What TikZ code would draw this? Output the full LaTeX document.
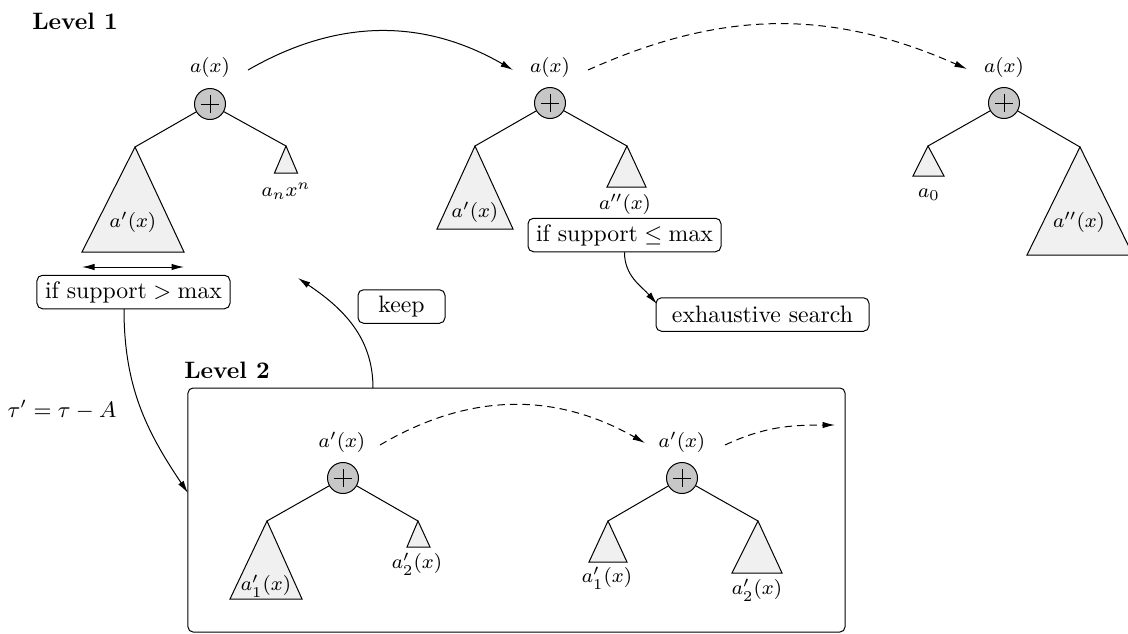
\documentclass[tikz,border=0pt]{standalone}
\usetikzlibrary{arrows.meta,calc}
\begin{document}
\begin{tikzpicture}[x=0.4pt,y=-0.4pt,
  lab/.style={inner sep=0pt,font=\fontsize{8.5}{10}\selectfont},
  txtbox/.style={draw,rounded corners=2.2pt,inner sep=0pt,font=\fontsize{9.5}{11}\selectfont,minimum height=13.4pt},
  lvl/.style={inner sep=0pt,font=\fontsize{9.5}{11}\selectfont\bfseries},
  sumnode/.style={circle,draw,fill=black!22,minimum size=12.4pt,inner sep=0pt,
    path picture={\draw ([xshift=-3.5pt]path picture bounding box.center) -- ([xshift=3.5pt]path picture bounding box.center);
                  \draw ([yshift=-3.5pt]path picture bounding box.center) -- ([yshift=3.5pt]path picture bounding box.center);}},
  tri/.style={draw,fill=black!6},
  arr/.style={-{Latex[length=5pt,width=2.6pt]}},
  dsh/.style={dash pattern=on 3pt off 2pt}
]
\useasboundingbox (0,0) rectangle (1128,634);

% ---------- Level 1 ----------
\node[lvl] (lev1) at (75,21) {Level 1};

% tree 1
\node[lab] (a1) at (210,67) {$a(x)$};
\node[sumnode] (s1) at (210,104) {};
\coordinate (t1l) at (135,147);
\coordinate (t1r) at (286,146);
\draw[tri] (t1l) -- (82,252) -- (184,252) -- cycle;
\draw[tri] (t1r) -- (274.5,173) -- (297.5,173) -- cycle;
\draw (s1) -- (t1l);
\draw (s1) -- (t1r);
\node[lab] (l1a) at (133,222) {$a'(x)$};
\node[lab] (l1b) at (286,191) {$a_nx^n$};
\coordinate (da) at (82,267);
\coordinate (db) at (184,267);
\draw[{Latex[length=5pt,width=2.6pt]}-{Latex[length=5pt,width=2.6pt]}] (da) -- (db);
\node[txtbox,minimum width=77.2pt] (ifgt) at (133.5,292) {if support${}>{}$max};

% tree 2
\node[lab] (a2) at (550,67) {$a(x)$};
\node[sumnode] (s2) at (550,103) {};
\coordinate (t2l) at (475,146);
\coordinate (t2r) at (627,146);
\draw[tri] (t2l) -- (437,229) -- (513,229) -- cycle;
\draw[tri] (t2r) -- (607,187) -- (646,187) -- cycle;
\draw (s2) -- (t2l);
\draw (s2) -- (t2r);
\node[lab] (l2a) at (475,212) {$a'(x)$};
\node[lab] (l2b) at (625,204) {$a''(x)$};
\node[txtbox,minimum width=77.2pt] (ifle) at (624.5,235) {if support${}\leq{}$max};
\node[txtbox,minimum width=85.2pt] (exh) at (762.5,314.5) {exhaustive search};
\node[txtbox,minimum width=34.8pt] (keep) at (401.5,306.5) {keep};

% tree 3
\node[lab] (a3) at (1004,67) {$a(x)$};
\node[sumnode] (s3) at (1004,103) {};
\coordinate (t3l) at (928,146);
\coordinate (t3r) at (1080,147);
\draw[tri] (t3l) -- (913,176) -- (944,176) -- cycle;
\draw[tri] (t3r) -- (1027,255) -- (1133,255) -- cycle;
\draw (s3) -- (t3l);
\draw (s3) -- (t3r);
\node[lab] (l3a) at (929,195) {$a_0$};
\node[lab] (l3b) at (1079,222) {$a''(x)$};

% level-1 connectors
\coordinate (c1s) at (248,70);
\coordinate (c1e) at (513,70);
\draw[arr] (c1s) to[bend left=30] (c1e);
\coordinate (c2s) at (588,70);
\coordinate (c2e) at (967,69);
\draw[arr,dsh] (c2s) to[bend left=24] (c2e);

% ---------- Level 2 ----------
\node[lvl] (lev2) at (227,370) {Level 2};
\node[draw,rounded corners=2pt,minimum width=262.8pt,minimum height=97.6pt,inner sep=0pt] (lvl2) at (516.5,510) {};
\node[font=\fontsize{9}{11}\selectfont,inner sep=0pt] (tau) at (62,410) {$\tau'=\tau-A$};

% tree 4
\node[lab] (a4) at (342,442) {$a'(x)$};
\node[sumnode] (s4) at (343,478) {};
\coordinate (t4l) at (267,521);
\coordinate (t4r) at (418,521);
\draw[tri] (t4l) -- (230,599) -- (302,599) -- cycle;
\draw[tri] (t4r) -- (407,547) -- (430,547) -- cycle;
\draw (s4) -- (t4l);
\draw (s4) -- (t4r);
\node[lab] (l4a) at (266,586) {$a_1'(x)$};
\node[lab] (l4b) at (417,564) {$a_2'(x)$};

% tree 5
\node[lab] (a5) at (682,442) {$a'(x)$};
\node[sumnode] (s5) at (682,478) {};
\coordinate (t5l) at (608,521);
\coordinate (t5r) at (758,521);
\draw[tri] (t5l) -- (589,562) -- (627,562) -- cycle;
\draw[tri] (t5r) -- (732,573) -- (782,573) -- cycle;
\draw (s5) -- (t5l);
\draw (s5) -- (t5r);
\node[lab] (l5a) at (607,578) {$a_1'(x)$};
\node[lab] (l5b) at (757,590) {$a_2'(x)$};

% level-2 connectors
\coordinate (c3s) at (380,445);
\coordinate (c3e) at (645,443);
\draw[arr,dsh] (c3s) to[bend left=30] (c3e);
\coordinate (c4s) at (725,445);
\coordinate (c4e) at (835,425);
\draw[arr,dsh] (c4s) to[out=25,in=180] (c4e);

% cross-level connectors
\coordinate (gts) at (124,309);
\coordinate (l2in) at (188,493);
\draw[arr] (gts) to[out=-90,in=124] (l2in);
\coordinate (ks) at (373,388);
\coordinate (ke) at (298,278);
\draw[arr] (ks) to[out=90,in=-34] (ke);
\coordinate (exhin) at (657,304);
\draw[arr] (ifle.south) to[out=-90,in=131] (exhin);
\end{tikzpicture}
\end{document}
